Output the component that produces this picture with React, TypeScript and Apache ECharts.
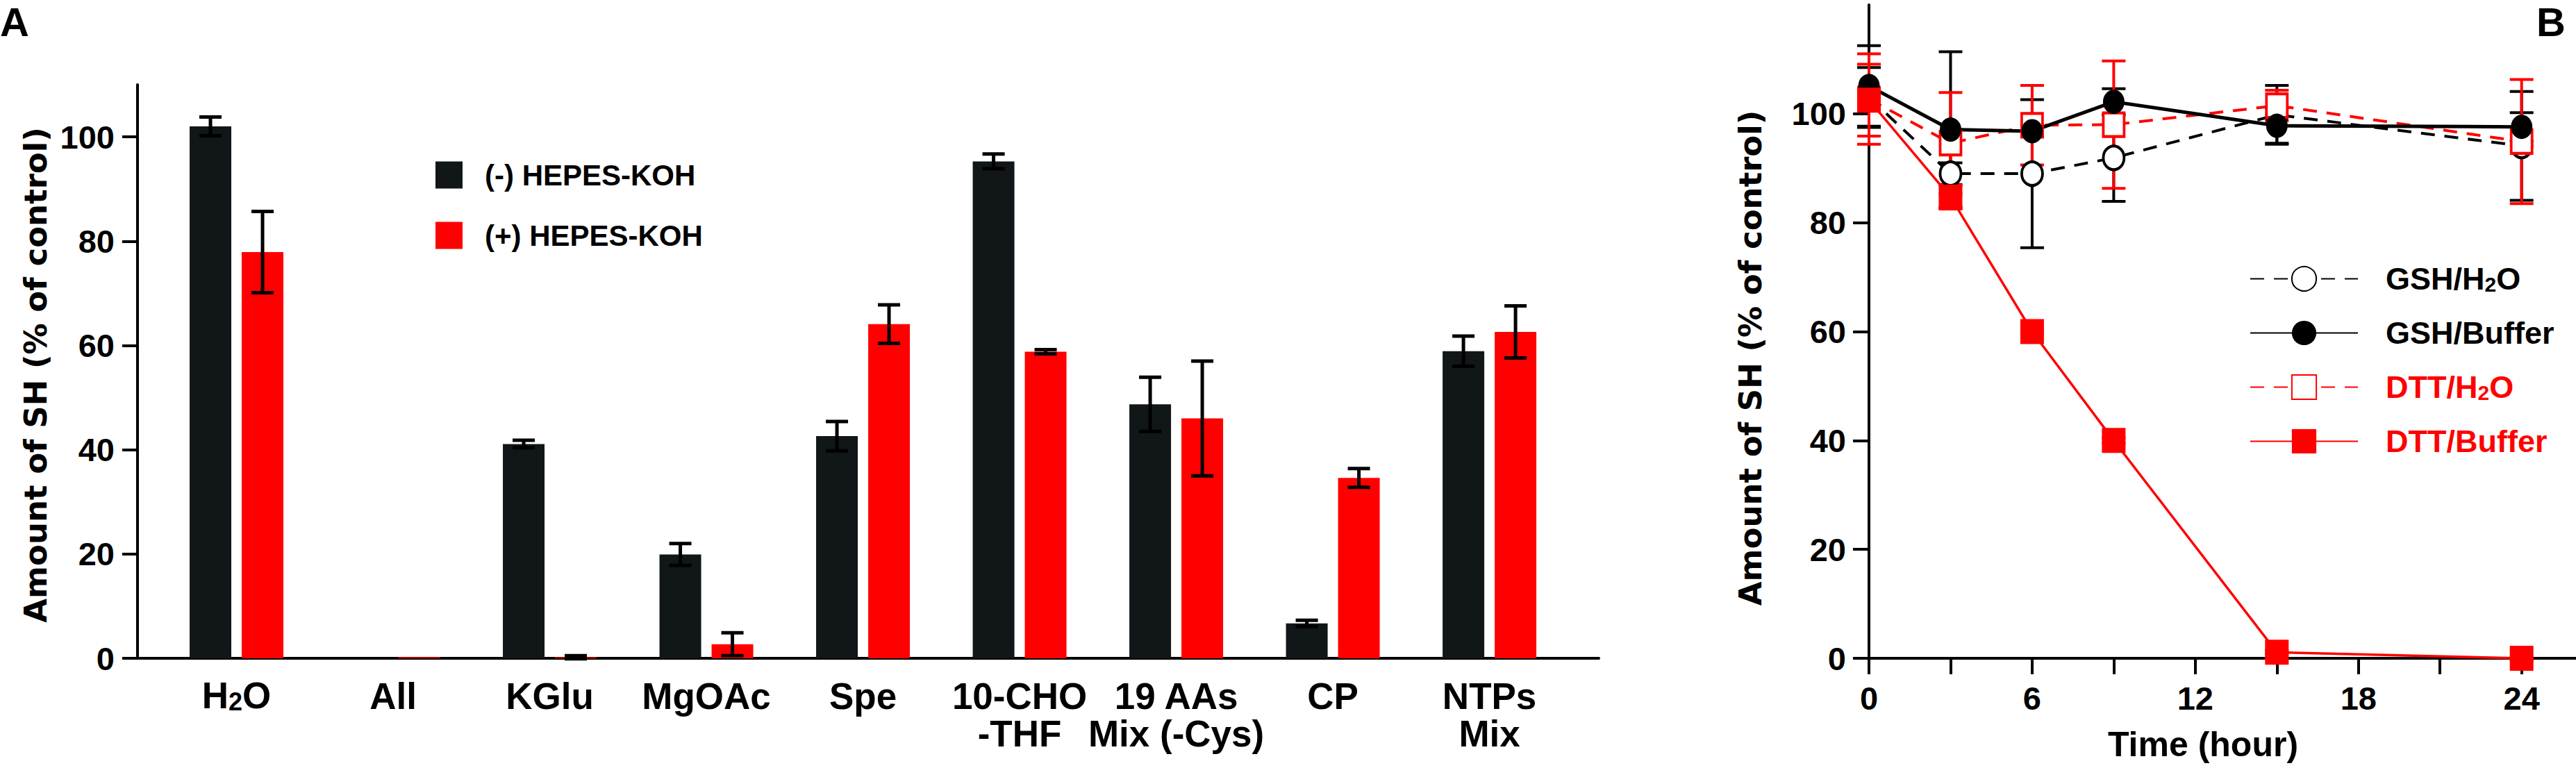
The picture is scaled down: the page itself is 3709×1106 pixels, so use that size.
import React, { useEffect, useRef } from 'react';
import * as echarts from 'echarts';

// ---------- Panel A data ----------
const CATEGORIES = ['H2O', 'All', 'KGlu', 'MgOAc', 'Spe', '10-CHO\n-THF', '19 AAs\nMix (-Cys)', 'CP', 'NTPs\nMix'];
const MINUS_HEPES = [102.0, 0, 41.1, 19.9, 42.6, 95.3, 48.7, 6.7, 58.9];
const MINUS_ERR = [1.8, 0, 0.7, 2.1, 2.8, 1.4, 5.2, 0.6, 2.9];
const PLUS_HEPES = [77.9, 0.2, 0.2, 2.7, 64.1, 58.8, 46.0, 34.6, 62.6];
const PLUS_ERR = [7.8, 0, 0.3, 2.2, 3.7, 0.4, 11.0, 1.8, 5.0];
const A_Y_TICKS = [0, 20, 40, 60, 80, 100];

// ---------- Panel B data ----------
const TIME = [0, 3, 6, 9, 15, 24];
const GSH_H2O = [103.0, 89.0, 89.0, 91.9, 99.8, 94.1];
const GSH_H2O_ERR = [5.5, 2.0, 13.6, 8.0, 5.4, 10.0];
const GSH_BUF = [105.1, 97.1, 96.8, 102.2, 97.8, 97.6];
const GSH_BUF_ERR = [7.4, 14.3, 1.0, 2.4, 3.2, 2.6];
const DTT_H2O = [102.7, 94.6, 97.9, 98.0, 101.5, 94.9];
const DTT_H2O_ERR = [8.3, 9.3, 7.3, 11.7, 2.8, 11.4];
const DTT_BUF = [102.5, 84.7, 60.0, 40.0, 1.1, 0.0];
const DTT_BUF_ERR = [6.6, 2.2, 0.5, 0.5, 0.3, 0.3];
const B_X_TICKS = [0, 3, 6, 9, 12, 15, 18, 21, 24];
const B_X_LABELS = [0, 6, 12, 18, 24];
const B_Y_TICKS = [0, 20, 40, 60, 80, 100];

const FONT = "'Liberation Sans', Arial, sans-serif";
const TITLE_FONT = "'DejaVu Sans', sans-serif";
const BLACK = '#111618';
const RED = '#ff0000';

// rich styles for the subscript "2" of H2O
const subRich = (size: number) => ({
  a: { fontSize: size, fontWeight: 'bold', fontFamily: FONT, lineHeight: size },
  s: {
    fontSize: Math.round(size * 0.67),
    fontWeight: 'bold',
    fontFamily: FONT,
    lineHeight: Math.round(size * 0.42),
    verticalAlign: 'bottom',
  },
});
const withSub = (s: string) => {
  const i = s.indexOf('H2O');
  if (i < 0) return s;
  return '{a|' + s.slice(0, i) + 'H}{s|2}{a|O' + s.slice(i + 3) + '}';
};

export default function App() {
  const ref = useRef<HTMLDivElement>(null);
  useEffect(() => {
    document.body.style.margin = '0';
    const chart = echarts.init(ref.current as HTMLDivElement, null, { renderer: 'svg' });

    const BAR_W = 60;
    const BAR_GAP = 0.25;
    const barOffset = (BAR_W * (1 + BAR_GAP)) / 2;
    const catX = CATEGORIES.map((_, i) => i + 1);

    const barErrData = (vals: number[], errs: number[], side: number) =>
      vals.map((v, i) => [catX[i], v, errs[i], side]);

    const renderBarErr = (params: any, api: any) => {
      const x = api.value(0);
      const y = api.value(1);
      const e = api.value(2);
      const side = api.value(3);
      if (!e) return { type: 'group', children: [] };
      const top = api.coord([x, y + e]);
      const bot = api.coord([x, y - e]);
      const cx = top[0] + side * barOffset;
      const hw = 16;
      const style = { stroke: '#000', lineWidth: 5 };
      return {
        type: 'group',
        children: [
          { type: 'line', shape: { x1: cx, y1: top[1], x2: cx, y2: bot[1] }, style },
          { type: 'line', shape: { x1: cx - hw, y1: top[1], x2: cx + hw, y2: top[1] }, style },
          { type: 'line', shape: { x1: cx - hw, y1: bot[1], x2: cx + hw, y2: bot[1] }, style },
        ],
      };
    };

    const lineErrData = (vals: number[], errs: number[]) => vals.map((v, i) => [TIME[i], v, errs[i]]);
    const makeLineErr = (color: string) => (params: any, api: any) => {
      const x = api.value(0);
      const y = api.value(1);
      const e = api.value(2);
      const top = api.coord([x, y + e]);
      const bot = api.coord([x, y - e]);
      const hw = 17;
      const style = { stroke: color, lineWidth: 4 };
      return {
        type: 'group',
        children: [
          { type: 'line', shape: { x1: top[0], y1: top[1], x2: bot[0], y2: bot[1] }, style },
          { type: 'line', shape: { x1: top[0] - hw, y1: top[1], x2: top[0] + hw, y2: top[1] }, style },
          { type: 'line', shape: { x1: bot[0] - hw, y1: bot[1], x2: bot[0] + hw, y2: bot[1] }, style },
        ],
      };
    };

    const axisLineStyle = { color: '#000', width: 4 };
    const tickLabel = { fontSize: 47, fontWeight: 'bold', fontFamily: FONT, color: '#000' };

    const option: any = {
      animation: false,
      backgroundColor: '#fff',
      textStyle: { fontFamily: FONT },
      title: [
        { text: 'A', left: 0, top: 2, padding: 0, textStyle: { fontSize: 58, fontWeight: 'bold', fontFamily: FONT, color: '#000' } },
        { text: 'B', left: 3652, top: 2, padding: 0, textStyle: { fontSize: 58, fontWeight: 'bold', fontFamily: FONT, color: '#000' } },
      ],
      grid: [
        { left: 198, width: 2104, top: 122, bottom: 158, containLabel: false, outerBoundsMode: 'none' },
        { left: 2691, right: 0, top: 7, bottom: 158, containLabel: false, outerBoundsMode: 'none' },
      ],
      legend: [
        {
          orient: 'vertical', left: 627, top: 231, padding: 0,
          itemWidth: 39, itemHeight: 39, itemGap: 45, icon: 'rect', selectedMode: false,
          data: ['(-) HEPES-KOH', '(+) HEPES-KOH'],
          textStyle: { fontSize: 42, fontWeight: 'bold', fontFamily: FONT, color: '#000', padding: [0, 0, 0, 27] },
        },
        {
          orient: 'vertical', left: 3239, top: 379, padding: 0,
          itemWidth: 155, itemHeight: 44, itemGap: 33, selectedMode: false,
          data: [
            { name: 'GSH/H2O', textStyle: { color: '#000' } },
            { name: 'GSH/Buffer', textStyle: { color: '#000' } },
            { name: 'DTT/H2O', textStyle: { color: RED } },
            { name: 'DTT/Buffer', textStyle: { color: RED } },
          ],
          formatter: (name: string) => withSub(name),
          textStyle: {
            fontSize: 45, lineHeight: 44, fontWeight: 'bold', fontFamily: FONT,
            padding: [0, 0, 0, 35], rich: subRich(45),
          },
        },
      ],
      xAxis: [
        {
          type: 'value', gridIndex: 0, min: 0.368, max: 9.698,
          splitLine: { show: false },
          axisLine: { show: true, lineStyle: axisLineStyle },
          axisTick: { show: false },
          axisLabel: {
            customValues: catX,
            formatter: (v: number) => withSub(CATEGORIES[Math.round(v) - 1] || ''),
            fontSize: 53, fontWeight: 'bold', fontFamily: FONT, color: '#000', lineHeight: 54, margin: 27,
            rich: subRich(53),
          },
        },
        {
          type: 'value', gridIndex: 1, min: 0, max: 26,
          splitLine: { show: false },
          axisLine: { show: true, lineStyle: axisLineStyle },
          axisTick: { show: true, customValues: B_X_TICKS, length: 23, lineStyle: { color: '#000', width: 4 } },
          axisLabel: { customValues: B_X_LABELS, margin: 34, ...tickLabel },
          name: 'Time (hour)', nameLocation: 'middle', nameGap: 99,
          nameTextStyle: { fontSize: 50, lineHeight: 50, fontWeight: 'bold', fontFamily: FONT, color: '#000', padding: [0, 56, 0, 0] },
        },
      ],
      yAxis: [
        {
          type: 'value', gridIndex: 0, min: 0, max: 110,
          splitLine: { show: false },
          axisLine: { show: true, lineStyle: axisLineStyle },
          axisTick: { show: true, customValues: A_Y_TICKS, length: 22, lineStyle: { color: '#000', width: 4 } },
          axisLabel: { customValues: A_Y_TICKS, margin: 33, ...tickLabel },
          name: 'Amount of SH (% of control)', nameLocation: 'middle', nameGap: 124,
          nameTextStyle: { fontSize: 45, fontWeight: 'bold', fontFamily: TITLE_FONT, color: '#000', padding: [0, 10, 0, 0] },
        },
        {
          type: 'value', gridIndex: 1, min: 0, max: 120,
          splitLine: { show: false },
          axisLine: { show: true, lineStyle: axisLineStyle },
          axisTick: { show: true, customValues: B_Y_TICKS, length: 23, lineStyle: { color: '#000', width: 4 } },
          axisLabel: { customValues: B_Y_TICKS, margin: 33, ...tickLabel },
          name: 'Amount of SH (% of control)', nameLocation: 'middle', nameGap: 148,
          nameTextStyle: { fontSize: 45, fontWeight: 'bold', fontFamily: TITLE_FONT, color: '#000', padding: [0, 76, 0, 0] },
        },
      ],
      series: [
        {
          name: '(-) HEPES-KOH', type: 'bar', xAxisIndex: 0, yAxisIndex: 0,
          barWidth: BAR_W, barGap: '25%',
          itemStyle: { color: BLACK },
          data: catX.map((x, i) => [x, MINUS_HEPES[i]]),
        },
        {
          name: '(+) HEPES-KOH', type: 'bar', xAxisIndex: 0, yAxisIndex: 0,
          barWidth: BAR_W, barGap: '25%',
          itemStyle: { color: RED },
          data: catX.map((x, i) => [x, PLUS_HEPES[i]]),
        },
        {
          type: 'custom', xAxisIndex: 0, yAxisIndex: 0, z: 3,
          renderItem: renderBarErr, encode: { x: 0, y: 1 },
          data: barErrData(MINUS_HEPES, MINUS_ERR, -1),
        },
        {
          type: 'custom', xAxisIndex: 0, yAxisIndex: 0, z: 3,
          renderItem: renderBarErr, encode: { x: 0, y: 1 },
          data: barErrData(PLUS_HEPES, PLUS_ERR, 1),
        },
        {
          name: 'GSH/H2O', type: 'line', xAxisIndex: 1, yAxisIndex: 1,
          symbol: 'circle', symbolSize: [30, 34],
          itemStyle: { color: '#fff', borderColor: '#000', borderWidth: 4 },
          lineStyle: { color: '#000', width: 4, type: [20, 14] },
          data: TIME.map((t, i) => [t, GSH_H2O[i]]),
        },
        {
          name: 'DTT/H2O', type: 'line', xAxisIndex: 1, yAxisIndex: 1,
          symbol: 'rect', symbolSize: [30, 34],
          itemStyle: { color: '#fff', borderColor: RED, borderWidth: 4 },
          lineStyle: { color: RED, width: 4, type: [20, 14] },
          data: TIME.map((t, i) => [t, DTT_H2O[i]]),
        },
        {
          name: 'GSH/Buffer', type: 'line', xAxisIndex: 1, yAxisIndex: 1,
          symbol: 'circle', symbolSize: [31, 35],
          itemStyle: { color: '#000', borderColor: '#000', borderWidth: 0 },
          lineStyle: { color: '#000', width: 5 },
          data: TIME.map((t, i) => [t, GSH_BUF[i]]),
        },
        {
          name: 'DTT/Buffer', type: 'line', xAxisIndex: 1, yAxisIndex: 1,
          symbol: 'rect', symbolSize: [34, 36],
          itemStyle: { color: RED, borderWidth: 0 },
          lineStyle: { color: RED, width: 3.5 },
          data: TIME.map((t, i) => [t, DTT_BUF[i]]),
        },
        {
          type: 'custom', xAxisIndex: 1, yAxisIndex: 1, z: 3,
          renderItem: makeLineErr('#000'), encode: { x: 0, y: 1 },
          data: lineErrData(GSH_H2O, GSH_H2O_ERR),
        },
        {
          type: 'custom', xAxisIndex: 1, yAxisIndex: 1, z: 3,
          renderItem: makeLineErr('#000'), encode: { x: 0, y: 1 },
          data: lineErrData(GSH_BUF, GSH_BUF_ERR),
        },
        {
          type: 'custom', xAxisIndex: 1, yAxisIndex: 1, z: 3,
          renderItem: makeLineErr(RED), encode: { x: 0, y: 1 },
          data: lineErrData(DTT_H2O, DTT_H2O_ERR),
        },
        {
          type: 'custom', xAxisIndex: 1, yAxisIndex: 1, z: 3,
          renderItem: makeLineErr(RED), encode: { x: 0, y: 1 },
          data: lineErrData(DTT_BUF, DTT_BUF_ERR),
        },
      ],
    };
    chart.setOption(option);
    return () => chart.dispose();
  }, []);
  return (
    <div
      ref={ref}
      style={{ position: 'fixed', left: 0, top: 0, width: 3709, height: 1106, background: '#fff' }}
    />
  );
}
